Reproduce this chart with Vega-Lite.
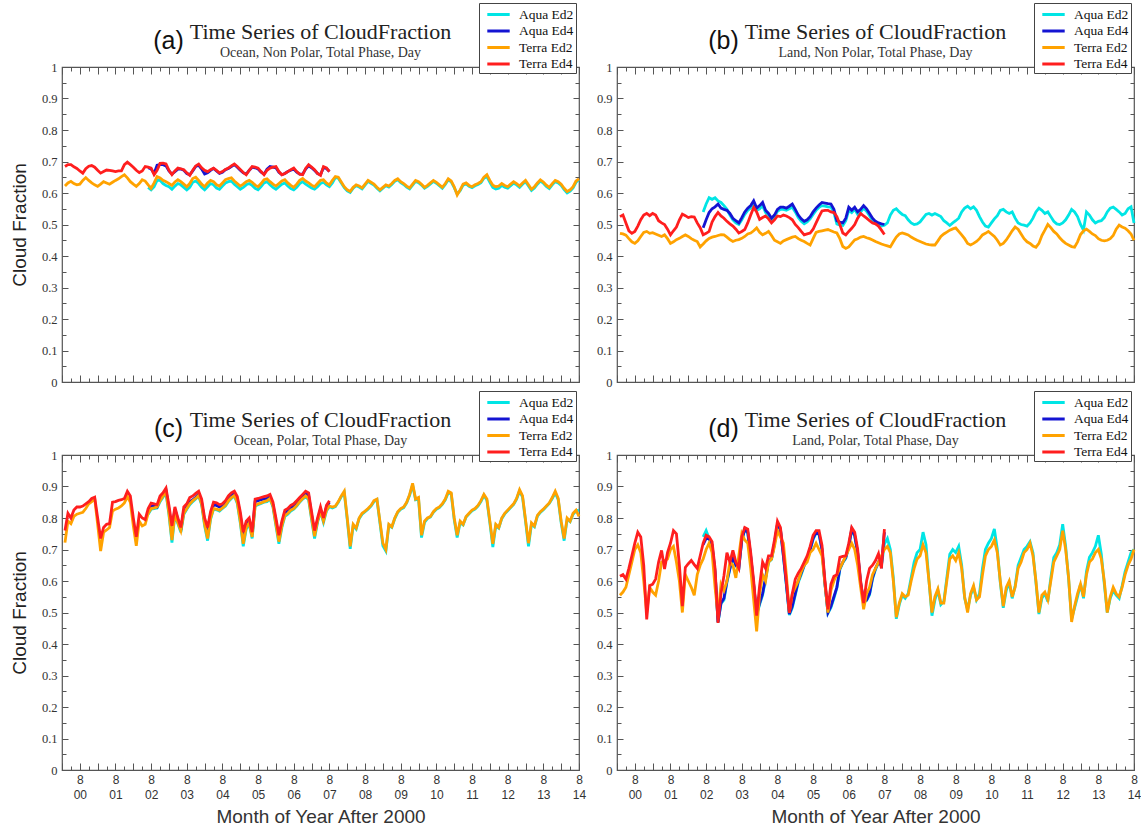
{
"$schema":"https://vega.github.io/schema/vega-lite/v6.json",
"background":"white",
"padding":{"left":9,"top":1,"right":0,"bottom":0},
"columns":2,
"spacing":{"row":73,"column":38},
"bounds":"flush",
"resolve":{"scale":{"color":"independent"},"legend":{"color":"independent"}},
"config":{
"view":{"stroke":"#555","strokeWidth":1.2},
"axis":{"domain":false,"grid":false,"tickColor":"#555","tickWidth":1,"labelFlush":false,"labelOverlap":false,"labelBound":false},
"legend":{"orient":"none","legendX":417,"legendY":-64,"strokeColor":"#444","fillColor":"white","padding":2,"symbolType":"M-0.4,0H2.4","symbolSize":256,"symbolStrokeWidth":3,"labelOffset":19,"labelFont":"Liberation Serif","labelFontSize":13.5,"labelColor":"#111","rowPadding":0.5},
"title":{"font":"Liberation Serif","fontSize":22,"fontWeight":"normal","color":"#222","subtitleFont":"Liberation Serif","subtitleFontSize":14,"subtitleColor":"#333","subtitlePadding":2,"offset":-58,"frame":"group","anchor":"middle"}
},
"datasets":{
"a_a2":[{"t":30,"v":0.618},{"t":31,"v":0.610},{"t":32,"v":0.620},{"t":33,"v":0.640},{"t":34,"v":0.640},{"t":35,"v":0.630},{"t":36,"v":0.624},{"t":37,"v":0.620},{"t":38,"v":0.612},{"t":39,"v":0.622},{"t":40,"v":0.630},{"t":41,"v":0.626},{"t":42,"v":0.618},{"t":43,"v":0.610},{"t":44,"v":0.618},{"t":45,"v":0.634},{"t":46,"v":0.638},{"t":47,"v":0.630},{"t":48,"v":0.618},{"t":49,"v":0.610},{"t":50,"v":0.620},{"t":51,"v":0.630},{"t":52,"v":0.626},{"t":53,"v":0.616},{"t":54,"v":0.612},{"t":55,"v":0.622},{"t":56,"v":0.632},{"t":57,"v":0.636},{"t":58,"v":0.638},{"t":59,"v":0.628},{"t":60,"v":0.620},{"t":61,"v":0.612},{"t":62,"v":0.618},{"t":63,"v":0.626},{"t":64,"v":0.630},{"t":65,"v":0.624},{"t":66,"v":0.615},{"t":67,"v":0.610},{"t":68,"v":0.620},{"t":69,"v":0.632},{"t":70,"v":0.636},{"t":71,"v":0.626},{"t":72,"v":0.618},{"t":73,"v":0.612},{"t":74,"v":0.620},{"t":75,"v":0.628},{"t":76,"v":0.632},{"t":77,"v":0.622},{"t":78,"v":0.614},{"t":79,"v":0.610},{"t":80,"v":0.618},{"t":81,"v":0.630},{"t":82,"v":0.636},{"t":83,"v":0.628},{"t":84,"v":0.622},{"t":85,"v":0.616},{"t":86,"v":0.612},{"t":87,"v":0.620},{"t":88,"v":0.630},{"t":89,"v":0.634},{"t":90,"v":0.626},{"t":91,"v":0.620},{"t":92,"v":0.632},{"t":93,"v":0.649},{"t":94,"v":0.647},{"t":95,"v":0.632},{"t":96,"v":0.617},{"t":97,"v":0.607},{"t":98,"v":0.602},{"t":99,"v":0.615},{"t":100,"v":0.623},{"t":101,"v":0.619},{"t":102,"v":0.613},{"t":103,"v":0.625},{"t":104,"v":0.637},{"t":105,"v":0.631},{"t":106,"v":0.625},{"t":107,"v":0.615},{"t":108,"v":0.607},{"t":109,"v":0.615},{"t":110,"v":0.623},{"t":111,"v":0.619},{"t":112,"v":0.627},{"t":113,"v":0.637},{"t":114,"v":0.642},{"t":115,"v":0.633},{"t":116,"v":0.627},{"t":117,"v":0.619},{"t":118,"v":0.613},{"t":119,"v":0.625},{"t":120,"v":0.637},{"t":121,"v":0.633},{"t":122,"v":0.625},{"t":123,"v":0.615},{"t":124,"v":0.621},{"t":125,"v":0.629},{"t":126,"v":0.637},{"t":127,"v":0.631},{"t":128,"v":0.623},{"t":129,"v":0.615},{"t":130,"v":0.627},{"t":131,"v":0.642},{"t":132,"v":0.635},{"t":133,"v":0.617},{"t":134,"v":0.597},{"t":135,"v":0.607},{"t":136,"v":0.625},{"t":137,"v":0.629},{"t":138,"v":0.621},{"t":139,"v":0.617},{"t":140,"v":0.623},{"t":141,"v":0.627},{"t":142,"v":0.633},{"t":143,"v":0.647},{"t":144,"v":0.652},{"t":145,"v":0.634},{"t":146,"v":0.618},{"t":147,"v":0.613},{"t":148,"v":0.615},{"t":149,"v":0.624},{"t":150,"v":0.618},{"t":151,"v":0.615},{"t":152,"v":0.623},{"t":153,"v":0.631},{"t":154,"v":0.626},{"t":155,"v":0.618},{"t":156,"v":0.628},{"t":157,"v":0.636},{"t":158,"v":0.622},{"t":159,"v":0.608},{"t":160,"v":0.616},{"t":161,"v":0.628},{"t":162,"v":0.638},{"t":163,"v":0.631},{"t":164,"v":0.621},{"t":165,"v":0.614},{"t":166,"v":0.626},{"t":167,"v":0.636},{"t":168,"v":0.632},{"t":169,"v":0.624},{"t":170,"v":0.611},{"t":171,"v":0.600},{"t":172,"v":0.606},{"t":173,"v":0.616},{"t":174,"v":0.634},{"t":175,"v":0.642}],
"a_a4":[{"t":30,"v":0.680},{"t":31,"v":0.676},{"t":32,"v":0.662},{"t":33,"v":0.688},{"t":34,"v":0.690},{"t":35,"v":0.690},{"t":36,"v":0.686},{"t":37,"v":0.670},{"t":38,"v":0.660},{"t":39,"v":0.668},{"t":40,"v":0.676},{"t":41,"v":0.676},{"t":42,"v":0.672},{"t":43,"v":0.662},{"t":44,"v":0.658},{"t":45,"v":0.670},{"t":46,"v":0.684},{"t":47,"v":0.688},{"t":48,"v":0.676},{"t":49,"v":0.660},{"t":50,"v":0.664},{"t":51,"v":0.672},{"t":52,"v":0.678},{"t":53,"v":0.670},{"t":54,"v":0.662},{"t":55,"v":0.666},{"t":56,"v":0.674},{"t":57,"v":0.678},{"t":58,"v":0.684},{"t":59,"v":0.690},{"t":60,"v":0.682},{"t":61,"v":0.672},{"t":62,"v":0.664},{"t":63,"v":0.660},{"t":64,"v":0.672},{"t":65,"v":0.682},{"t":66,"v":0.680},{"t":67,"v":0.676},{"t":68,"v":0.666},{"t":69,"v":0.660},{"t":70,"v":0.676},{"t":71,"v":0.684},{"t":72,"v":0.682},{"t":73,"v":0.680},{"t":74,"v":0.666},{"t":75,"v":0.658},{"t":76,"v":0.662},{"t":77,"v":0.668},{"t":78,"v":0.672},{"t":79,"v":0.676},{"t":80,"v":0.666},{"t":81,"v":0.660},{"t":82,"v":0.660},{"t":83,"v":0.676},{"t":84,"v":0.686},{"t":85,"v":0.680},{"t":86,"v":0.672},{"t":87,"v":0.662},{"t":88,"v":0.658},{"t":89,"v":0.680},{"t":90,"v":0.678},{"t":91,"v":0.668}],
"a_t2":[{"t":2,"v":0.622},{"t":3,"v":0.632},{"t":4,"v":0.637},{"t":5,"v":0.630},{"t":6,"v":0.626},{"t":7,"v":0.628},{"t":8,"v":0.640},{"t":9,"v":0.649},{"t":10,"v":0.640},{"t":11,"v":0.632},{"t":12,"v":0.626},{"t":13,"v":0.621},{"t":14,"v":0.628},{"t":15,"v":0.636},{"t":16,"v":0.632},{"t":17,"v":0.628},{"t":18,"v":0.634},{"t":19,"v":0.640},{"t":20,"v":0.645},{"t":21,"v":0.652},{"t":22,"v":0.658},{"t":23,"v":0.648},{"t":24,"v":0.636},{"t":25,"v":0.628},{"t":26,"v":0.621},{"t":27,"v":0.630},{"t":28,"v":0.642},{"t":29,"v":0.638},{"t":30,"v":0.626},{"t":31,"v":0.615},{"t":32,"v":0.632},{"t":33,"v":0.652},{"t":34,"v":0.648},{"t":35,"v":0.640},{"t":36,"v":0.636},{"t":37,"v":0.630},{"t":38,"v":0.624},{"t":39,"v":0.635},{"t":40,"v":0.642},{"t":41,"v":0.636},{"t":42,"v":0.628},{"t":43,"v":0.620},{"t":44,"v":0.630},{"t":45,"v":0.646},{"t":46,"v":0.650},{"t":47,"v":0.640},{"t":48,"v":0.628},{"t":49,"v":0.620},{"t":50,"v":0.632},{"t":51,"v":0.640},{"t":52,"v":0.636},{"t":53,"v":0.626},{"t":54,"v":0.622},{"t":55,"v":0.632},{"t":56,"v":0.642},{"t":57,"v":0.646},{"t":58,"v":0.648},{"t":59,"v":0.638},{"t":60,"v":0.630},{"t":61,"v":0.622},{"t":62,"v":0.628},{"t":63,"v":0.636},{"t":64,"v":0.640},{"t":65,"v":0.634},{"t":66,"v":0.625},{"t":67,"v":0.620},{"t":68,"v":0.630},{"t":69,"v":0.642},{"t":70,"v":0.645},{"t":71,"v":0.636},{"t":72,"v":0.628},{"t":73,"v":0.622},{"t":74,"v":0.630},{"t":75,"v":0.638},{"t":76,"v":0.642},{"t":77,"v":0.632},{"t":78,"v":0.624},{"t":79,"v":0.618},{"t":80,"v":0.628},{"t":81,"v":0.640},{"t":82,"v":0.646},{"t":83,"v":0.638},{"t":84,"v":0.632},{"t":85,"v":0.625},{"t":86,"v":0.620},{"t":87,"v":0.630},{"t":88,"v":0.640},{"t":89,"v":0.642},{"t":90,"v":0.632},{"t":91,"v":0.626},{"t":92,"v":0.640},{"t":93,"v":0.652},{"t":94,"v":0.650},{"t":95,"v":0.635},{"t":96,"v":0.620},{"t":97,"v":0.610},{"t":98,"v":0.605},{"t":99,"v":0.618},{"t":100,"v":0.626},{"t":101,"v":0.622},{"t":102,"v":0.616},{"t":103,"v":0.628},{"t":104,"v":0.640},{"t":105,"v":0.634},{"t":106,"v":0.628},{"t":107,"v":0.618},{"t":108,"v":0.610},{"t":109,"v":0.618},{"t":110,"v":0.626},{"t":111,"v":0.622},{"t":112,"v":0.630},{"t":113,"v":0.640},{"t":114,"v":0.645},{"t":115,"v":0.636},{"t":116,"v":0.630},{"t":117,"v":0.622},{"t":118,"v":0.616},{"t":119,"v":0.628},{"t":120,"v":0.640},{"t":121,"v":0.636},{"t":122,"v":0.628},{"t":123,"v":0.618},{"t":124,"v":0.624},{"t":125,"v":0.632},{"t":126,"v":0.640},{"t":127,"v":0.634},{"t":128,"v":0.626},{"t":129,"v":0.618},{"t":130,"v":0.630},{"t":131,"v":0.645},{"t":132,"v":0.638},{"t":133,"v":0.620},{"t":134,"v":0.594},{"t":135,"v":0.610},{"t":136,"v":0.628},{"t":137,"v":0.632},{"t":138,"v":0.624},{"t":139,"v":0.620},{"t":140,"v":0.626},{"t":141,"v":0.630},{"t":142,"v":0.636},{"t":143,"v":0.650},{"t":144,"v":0.658},{"t":145,"v":0.640},{"t":146,"v":0.625},{"t":147,"v":0.620},{"t":148,"v":0.622},{"t":149,"v":0.630},{"t":150,"v":0.624},{"t":151,"v":0.620},{"t":152,"v":0.628},{"t":153,"v":0.636},{"t":154,"v":0.630},{"t":155,"v":0.622},{"t":156,"v":0.632},{"t":157,"v":0.640},{"t":158,"v":0.626},{"t":159,"v":0.612},{"t":160,"v":0.620},{"t":161,"v":0.632},{"t":162,"v":0.642},{"t":163,"v":0.635},{"t":164,"v":0.625},{"t":165,"v":0.618},{"t":166,"v":0.630},{"t":167,"v":0.640},{"t":168,"v":0.636},{"t":169,"v":0.628},{"t":170,"v":0.615},{"t":171,"v":0.605},{"t":172,"v":0.610},{"t":173,"v":0.620},{"t":174,"v":0.638},{"t":175,"v":0.645}],
"a_t4":[{"t":2,"v":0.684},{"t":3,"v":0.690},{"t":4,"v":0.690},{"t":5,"v":0.683},{"t":6,"v":0.678},{"t":7,"v":0.670},{"t":8,"v":0.663},{"t":9,"v":0.677},{"t":10,"v":0.685},{"t":11,"v":0.687},{"t":12,"v":0.682},{"t":13,"v":0.672},{"t":14,"v":0.663},{"t":15,"v":0.668},{"t":16,"v":0.673},{"t":17,"v":0.672},{"t":18,"v":0.670},{"t":19,"v":0.668},{"t":20,"v":0.670},{"t":21,"v":0.670},{"t":22,"v":0.690},{"t":23,"v":0.698},{"t":24,"v":0.690},{"t":25,"v":0.682},{"t":26,"v":0.672},{"t":27,"v":0.665},{"t":28,"v":0.670},{"t":29,"v":0.684},{"t":30,"v":0.682},{"t":31,"v":0.679},{"t":32,"v":0.658},{"t":33,"v":0.672},{"t":34,"v":0.694},{"t":35,"v":0.695},{"t":36,"v":0.692},{"t":37,"v":0.672},{"t":38,"v":0.658},{"t":39,"v":0.670},{"t":40,"v":0.679},{"t":41,"v":0.677},{"t":42,"v":0.674},{"t":43,"v":0.664},{"t":44,"v":0.656},{"t":45,"v":0.672},{"t":46,"v":0.686},{"t":47,"v":0.692},{"t":48,"v":0.680},{"t":49,"v":0.672},{"t":50,"v":0.668},{"t":51,"v":0.674},{"t":52,"v":0.679},{"t":53,"v":0.672},{"t":54,"v":0.664},{"t":55,"v":0.668},{"t":56,"v":0.675},{"t":57,"v":0.679},{"t":58,"v":0.686},{"t":59,"v":0.692},{"t":60,"v":0.684},{"t":61,"v":0.675},{"t":62,"v":0.665},{"t":63,"v":0.658},{"t":64,"v":0.672},{"t":65,"v":0.684},{"t":66,"v":0.682},{"t":67,"v":0.679},{"t":68,"v":0.668},{"t":69,"v":0.658},{"t":70,"v":0.672},{"t":71,"v":0.679},{"t":72,"v":0.682},{"t":73,"v":0.684},{"t":74,"v":0.668},{"t":75,"v":0.658},{"t":76,"v":0.662},{"t":77,"v":0.668},{"t":78,"v":0.674},{"t":79,"v":0.679},{"t":80,"v":0.668},{"t":81,"v":0.660},{"t":82,"v":0.658},{"t":83,"v":0.678},{"t":84,"v":0.690},{"t":85,"v":0.682},{"t":86,"v":0.674},{"t":87,"v":0.662},{"t":88,"v":0.656},{"t":89,"v":0.684},{"t":90,"v":0.680},{"t":91,"v":0.668}],
"b_a2":[{"t":30,"v":0.540},{"t":31,"v":0.565},{"t":32,"v":0.585},{"t":33,"v":0.580},{"t":34,"v":0.585},{"t":35,"v":0.575},{"t":36,"v":0.570},{"t":37,"v":0.560},{"t":38,"v":0.548},{"t":39,"v":0.530},{"t":40,"v":0.515},{"t":41,"v":0.505},{"t":42,"v":0.500},{"t":43,"v":0.515},{"t":44,"v":0.532},{"t":45,"v":0.545},{"t":46,"v":0.552},{"t":47,"v":0.565},{"t":48,"v":0.545},{"t":49,"v":0.550},{"t":50,"v":0.560},{"t":51,"v":0.538},{"t":52,"v":0.528},{"t":53,"v":0.515},{"t":54,"v":0.525},{"t":55,"v":0.542},{"t":56,"v":0.548},{"t":57,"v":0.548},{"t":58,"v":0.545},{"t":59,"v":0.550},{"t":60,"v":0.555},{"t":61,"v":0.540},{"t":62,"v":0.522},{"t":63,"v":0.510},{"t":64,"v":0.502},{"t":65,"v":0.508},{"t":66,"v":0.518},{"t":67,"v":0.532},{"t":68,"v":0.545},{"t":69,"v":0.555},{"t":70,"v":0.560},{"t":71,"v":0.558},{"t":72,"v":0.556},{"t":73,"v":0.555},{"t":74,"v":0.538},{"t":75,"v":0.502},{"t":76,"v":0.498},{"t":77,"v":0.497},{"t":78,"v":0.512},{"t":79,"v":0.545},{"t":80,"v":0.538},{"t":81,"v":0.548},{"t":82,"v":0.532},{"t":83,"v":0.540},{"t":84,"v":0.552},{"t":85,"v":0.542},{"t":86,"v":0.528},{"t":87,"v":0.512},{"t":88,"v":0.503},{"t":89,"v":0.498},{"t":90,"v":0.495},{"t":91,"v":0.498},{"t":92,"v":0.505},{"t":93,"v":0.530},{"t":94,"v":0.545},{"t":95,"v":0.550},{"t":96,"v":0.540},{"t":97,"v":0.532},{"t":98,"v":0.528},{"t":99,"v":0.515},{"t":100,"v":0.505},{"t":101,"v":0.500},{"t":102,"v":0.502},{"t":103,"v":0.508},{"t":104,"v":0.520},{"t":105,"v":0.532},{"t":106,"v":0.535},{"t":107,"v":0.530},{"t":108,"v":0.535},{"t":109,"v":0.530},{"t":110,"v":0.525},{"t":111,"v":0.512},{"t":112,"v":0.505},{"t":113,"v":0.497},{"t":114,"v":0.505},{"t":115,"v":0.512},{"t":116,"v":0.520},{"t":117,"v":0.540},{"t":118,"v":0.552},{"t":119,"v":0.558},{"t":120,"v":0.550},{"t":121,"v":0.556},{"t":122,"v":0.545},{"t":123,"v":0.525},{"t":124,"v":0.508},{"t":125,"v":0.495},{"t":126,"v":0.492},{"t":127,"v":0.505},{"t":128,"v":0.518},{"t":129,"v":0.528},{"t":130,"v":0.545},{"t":131,"v":0.548},{"t":132,"v":0.540},{"t":133,"v":0.535},{"t":134,"v":0.540},{"t":135,"v":0.520},{"t":136,"v":0.505},{"t":137,"v":0.500},{"t":138,"v":0.498},{"t":139,"v":0.495},{"t":140,"v":0.505},{"t":141,"v":0.520},{"t":142,"v":0.540},{"t":143,"v":0.552},{"t":144,"v":0.545},{"t":145,"v":0.535},{"t":146,"v":0.540},{"t":147,"v":0.525},{"t":148,"v":0.510},{"t":149,"v":0.502},{"t":150,"v":0.500},{"t":151,"v":0.505},{"t":152,"v":0.515},{"t":153,"v":0.530},{"t":154,"v":0.548},{"t":155,"v":0.540},{"t":156,"v":0.525},{"t":157,"v":0.500},{"t":158,"v":0.482},{"t":159,"v":0.540},{"t":160,"v":0.530},{"t":161,"v":0.515},{"t":162,"v":0.505},{"t":163,"v":0.510},{"t":164,"v":0.512},{"t":165,"v":0.522},{"t":166,"v":0.540},{"t":167,"v":0.552},{"t":168,"v":0.555},{"t":169,"v":0.548},{"t":170,"v":0.540},{"t":171,"v":0.530},{"t":172,"v":0.535},{"t":173,"v":0.550},{"t":174,"v":0.556},{"t":175,"v":0.505}],
"b_a4":[{"t":30,"v":0.490},{"t":31,"v":0.515},{"t":32,"v":0.538},{"t":33,"v":0.550},{"t":34,"v":0.556},{"t":35,"v":0.565},{"t":36,"v":0.552},{"t":37,"v":0.548},{"t":38,"v":0.545},{"t":39,"v":0.535},{"t":40,"v":0.520},{"t":41,"v":0.512},{"t":42,"v":0.505},{"t":43,"v":0.522},{"t":44,"v":0.540},{"t":45,"v":0.552},{"t":46,"v":0.560},{"t":47,"v":0.575},{"t":48,"v":0.552},{"t":49,"v":0.560},{"t":50,"v":0.570},{"t":51,"v":0.545},{"t":52,"v":0.535},{"t":53,"v":0.520},{"t":54,"v":0.530},{"t":55,"v":0.548},{"t":56,"v":0.555},{"t":57,"v":0.555},{"t":58,"v":0.552},{"t":59,"v":0.558},{"t":60,"v":0.565},{"t":61,"v":0.548},{"t":62,"v":0.530},{"t":63,"v":0.518},{"t":64,"v":0.510},{"t":65,"v":0.515},{"t":66,"v":0.525},{"t":67,"v":0.540},{"t":68,"v":0.552},{"t":69,"v":0.562},{"t":70,"v":0.570},{"t":71,"v":0.568},{"t":72,"v":0.566},{"t":73,"v":0.565},{"t":74,"v":0.548},{"t":75,"v":0.512},{"t":76,"v":0.508},{"t":77,"v":0.505},{"t":78,"v":0.520},{"t":79,"v":0.555},{"t":80,"v":0.545},{"t":81,"v":0.555},{"t":82,"v":0.540},{"t":83,"v":0.548},{"t":84,"v":0.560},{"t":85,"v":0.550},{"t":86,"v":0.535},{"t":87,"v":0.520},{"t":88,"v":0.510},{"t":89,"v":0.505},{"t":90,"v":0.502},{"t":91,"v":0.500}],
"b_t2":[{"t":2,"v":0.472},{"t":3,"v":0.470},{"t":4,"v":0.466},{"t":5,"v":0.455},{"t":6,"v":0.445},{"t":7,"v":0.440},{"t":8,"v":0.448},{"t":9,"v":0.462},{"t":10,"v":0.475},{"t":11,"v":0.478},{"t":12,"v":0.472},{"t":13,"v":0.474},{"t":14,"v":0.470},{"t":15,"v":0.466},{"t":16,"v":0.462},{"t":17,"v":0.467},{"t":18,"v":0.455},{"t":19,"v":0.440},{"t":20,"v":0.445},{"t":21,"v":0.452},{"t":22,"v":0.456},{"t":23,"v":0.462},{"t":24,"v":0.467},{"t":25,"v":0.462},{"t":26,"v":0.455},{"t":27,"v":0.450},{"t":28,"v":0.446},{"t":29,"v":0.429},{"t":30,"v":0.438},{"t":31,"v":0.448},{"t":32,"v":0.456},{"t":33,"v":0.460},{"t":34,"v":0.462},{"t":35,"v":0.465},{"t":36,"v":0.468},{"t":37,"v":0.467},{"t":38,"v":0.460},{"t":39,"v":0.452},{"t":40,"v":0.446},{"t":41,"v":0.450},{"t":42,"v":0.452},{"t":43,"v":0.456},{"t":44,"v":0.462},{"t":45,"v":0.470},{"t":46,"v":0.473},{"t":47,"v":0.480},{"t":48,"v":0.489},{"t":49,"v":0.475},{"t":50,"v":0.467},{"t":51,"v":0.472},{"t":52,"v":0.478},{"t":53,"v":0.465},{"t":54,"v":0.450},{"t":55,"v":0.445},{"t":56,"v":0.440},{"t":57,"v":0.448},{"t":58,"v":0.452},{"t":59,"v":0.456},{"t":60,"v":0.460},{"t":61,"v":0.462},{"t":62,"v":0.455},{"t":63,"v":0.450},{"t":64,"v":0.446},{"t":65,"v":0.440},{"t":66,"v":0.435},{"t":67,"v":0.455},{"t":68,"v":0.475},{"t":69,"v":0.478},{"t":70,"v":0.480},{"t":71,"v":0.482},{"t":72,"v":0.484},{"t":73,"v":0.480},{"t":74,"v":0.476},{"t":75,"v":0.473},{"t":76,"v":0.455},{"t":77,"v":0.430},{"t":78,"v":0.424},{"t":79,"v":0.429},{"t":80,"v":0.440},{"t":81,"v":0.451},{"t":82,"v":0.455},{"t":83,"v":0.460},{"t":84,"v":0.462},{"t":85,"v":0.458},{"t":86,"v":0.455},{"t":87,"v":0.451},{"t":88,"v":0.446},{"t":89,"v":0.442},{"t":90,"v":0.438},{"t":91,"v":0.435},{"t":92,"v":0.432},{"t":93,"v":0.429},{"t":94,"v":0.445},{"t":95,"v":0.460},{"t":96,"v":0.470},{"t":97,"v":0.473},{"t":98,"v":0.470},{"t":99,"v":0.467},{"t":100,"v":0.460},{"t":101,"v":0.455},{"t":102,"v":0.450},{"t":103,"v":0.446},{"t":104,"v":0.442},{"t":105,"v":0.438},{"t":106,"v":0.436},{"t":107,"v":0.435},{"t":108,"v":0.435},{"t":109,"v":0.448},{"t":110,"v":0.462},{"t":111,"v":0.470},{"t":112,"v":0.476},{"t":113,"v":0.482},{"t":114,"v":0.486},{"t":115,"v":0.489},{"t":116,"v":0.478},{"t":117,"v":0.467},{"t":118,"v":0.455},{"t":119,"v":0.440},{"t":120,"v":0.435},{"t":121,"v":0.440},{"t":122,"v":0.446},{"t":123,"v":0.455},{"t":124,"v":0.467},{"t":125,"v":0.472},{"t":126,"v":0.478},{"t":127,"v":0.470},{"t":128,"v":0.462},{"t":129,"v":0.450},{"t":130,"v":0.435},{"t":131,"v":0.440},{"t":132,"v":0.451},{"t":133,"v":0.465},{"t":134,"v":0.480},{"t":135,"v":0.492},{"t":136,"v":0.485},{"t":137,"v":0.470},{"t":138,"v":0.455},{"t":139,"v":0.445},{"t":140,"v":0.440},{"t":141,"v":0.432},{"t":142,"v":0.428},{"t":143,"v":0.440},{"t":144,"v":0.465},{"t":145,"v":0.482},{"t":146,"v":0.500},{"t":147,"v":0.490},{"t":148,"v":0.478},{"t":149,"v":0.470},{"t":150,"v":0.458},{"t":151,"v":0.448},{"t":152,"v":0.440},{"t":153,"v":0.435},{"t":154,"v":0.430},{"t":155,"v":0.428},{"t":156,"v":0.445},{"t":157,"v":0.468},{"t":158,"v":0.480},{"t":159,"v":0.485},{"t":160,"v":0.478},{"t":161,"v":0.470},{"t":162,"v":0.465},{"t":163,"v":0.455},{"t":164,"v":0.450},{"t":165,"v":0.448},{"t":166,"v":0.450},{"t":167,"v":0.455},{"t":168,"v":0.465},{"t":169,"v":0.485},{"t":170,"v":0.498},{"t":171,"v":0.492},{"t":172,"v":0.488},{"t":173,"v":0.480},{"t":174,"v":0.470},{"t":175,"v":0.450}],
"b_t4":[{"t":2,"v":0.525},{"t":3,"v":0.530},{"t":4,"v":0.505},{"t":5,"v":0.480},{"t":6,"v":0.472},{"t":7,"v":0.478},{"t":8,"v":0.495},{"t":9,"v":0.515},{"t":10,"v":0.530},{"t":11,"v":0.535},{"t":12,"v":0.528},{"t":13,"v":0.535},{"t":14,"v":0.530},{"t":15,"v":0.512},{"t":16,"v":0.505},{"t":17,"v":0.500},{"t":18,"v":0.485},{"t":19,"v":0.467},{"t":20,"v":0.480},{"t":21,"v":0.492},{"t":22,"v":0.515},{"t":23,"v":0.533},{"t":24,"v":0.528},{"t":25,"v":0.522},{"t":26,"v":0.525},{"t":27,"v":0.524},{"t":28,"v":0.505},{"t":29,"v":0.490},{"t":30,"v":0.467},{"t":31,"v":0.472},{"t":32,"v":0.478},{"t":33,"v":0.508},{"t":34,"v":0.525},{"t":35,"v":0.538},{"t":36,"v":0.527},{"t":37,"v":0.520},{"t":38,"v":0.510},{"t":39,"v":0.502},{"t":40,"v":0.495},{"t":41,"v":0.485},{"t":42,"v":0.473},{"t":43,"v":0.478},{"t":44,"v":0.484},{"t":45,"v":0.505},{"t":46,"v":0.530},{"t":47,"v":0.554},{"t":48,"v":0.540},{"t":49,"v":0.516},{"t":50,"v":0.522},{"t":51,"v":0.527},{"t":52,"v":0.518},{"t":53,"v":0.505},{"t":54,"v":0.515},{"t":55,"v":0.527},{"t":56,"v":0.525},{"t":57,"v":0.530},{"t":58,"v":0.527},{"t":59,"v":0.522},{"t":60,"v":0.515},{"t":61,"v":0.500},{"t":62,"v":0.490},{"t":63,"v":0.478},{"t":64,"v":0.467},{"t":65,"v":0.470},{"t":66,"v":0.473},{"t":67,"v":0.485},{"t":68,"v":0.505},{"t":69,"v":0.525},{"t":70,"v":0.543},{"t":71,"v":0.545},{"t":72,"v":0.545},{"t":73,"v":0.540},{"t":74,"v":0.538},{"t":75,"v":0.525},{"t":76,"v":0.500},{"t":77,"v":0.473},{"t":78,"v":0.467},{"t":79,"v":0.478},{"t":80,"v":0.488},{"t":81,"v":0.500},{"t":82,"v":0.520},{"t":83,"v":0.535},{"t":84,"v":0.527},{"t":85,"v":0.520},{"t":86,"v":0.512},{"t":87,"v":0.505},{"t":88,"v":0.502},{"t":89,"v":0.495},{"t":90,"v":0.482},{"t":91,"v":0.468}],
"c_a2":[{"t":30,"v":0.812},{"t":31,"v":0.828},{"t":32,"v":0.830},{"t":33,"v":0.832},{"t":34,"v":0.852},{"t":35,"v":0.866},{"t":36,"v":0.878},{"t":37,"v":0.810},{"t":38,"v":0.722},{"t":39,"v":0.810},{"t":40,"v":0.782},{"t":41,"v":0.755},{"t":42,"v":0.812},{"t":43,"v":0.828},{"t":44,"v":0.842},{"t":45,"v":0.852},{"t":46,"v":0.860},{"t":47,"v":0.870},{"t":48,"v":0.842},{"t":49,"v":0.775},{"t":50,"v":0.728},{"t":51,"v":0.796},{"t":52,"v":0.828},{"t":53,"v":0.826},{"t":54,"v":0.822},{"t":55,"v":0.830},{"t":56,"v":0.838},{"t":57,"v":0.852},{"t":58,"v":0.862},{"t":59,"v":0.870},{"t":60,"v":0.846},{"t":61,"v":0.785},{"t":62,"v":0.710},{"t":63,"v":0.765},{"t":64,"v":0.780},{"t":65,"v":0.735},{"t":66,"v":0.838},{"t":67,"v":0.842},{"t":68,"v":0.846},{"t":69,"v":0.850},{"t":70,"v":0.852},{"t":71,"v":0.860},{"t":72,"v":0.835},{"t":73,"v":0.775},{"t":74,"v":0.718},{"t":75,"v":0.770},{"t":76,"v":0.805},{"t":77,"v":0.812},{"t":78,"v":0.822},{"t":79,"v":0.828},{"t":80,"v":0.838},{"t":81,"v":0.850},{"t":82,"v":0.860},{"t":83,"v":0.868},{"t":84,"v":0.858},{"t":85,"v":0.795},{"t":86,"v":0.735},{"t":87,"v":0.786},{"t":88,"v":0.820},{"t":89,"v":0.786},{"t":90,"v":0.822},{"t":91,"v":0.836},{"t":92,"v":0.832},{"t":93,"v":0.836},{"t":94,"v":0.850},{"t":95,"v":0.868},{"t":96,"v":0.880},{"t":97,"v":0.795},{"t":98,"v":0.702},{"t":99,"v":0.776},{"t":100,"v":0.765},{"t":101,"v":0.798},{"t":102,"v":0.812},{"t":103,"v":0.820},{"t":104,"v":0.828},{"t":105,"v":0.838},{"t":106,"v":0.852},{"t":107,"v":0.858},{"t":108,"v":0.785},{"t":109,"v":0.712},{"t":110,"v":0.695},{"t":111,"v":0.776},{"t":112,"v":0.770},{"t":113,"v":0.798},{"t":114,"v":0.818},{"t":115,"v":0.828},{"t":116,"v":0.833},{"t":117,"v":0.848},{"t":118,"v":0.872},{"t":119,"v":0.905},{"t":120,"v":0.858},{"t":121,"v":0.860},{"t":122,"v":0.738},{"t":123,"v":0.786},{"t":124,"v":0.798},{"t":125,"v":0.803},{"t":126,"v":0.818},{"t":127,"v":0.828},{"t":128,"v":0.833},{"t":129,"v":0.843},{"t":130,"v":0.858},{"t":131,"v":0.880},{"t":132,"v":0.876},{"t":133,"v":0.795},{"t":134,"v":0.738},{"t":135,"v":0.786},{"t":136,"v":0.778},{"t":137,"v":0.803},{"t":138,"v":0.813},{"t":139,"v":0.823},{"t":140,"v":0.828},{"t":141,"v":0.838},{"t":142,"v":0.852},{"t":143,"v":0.872},{"t":144,"v":0.856},{"t":145,"v":0.785},{"t":146,"v":0.708},{"t":147,"v":0.776},{"t":148,"v":0.768},{"t":149,"v":0.798},{"t":150,"v":0.813},{"t":151,"v":0.823},{"t":152,"v":0.833},{"t":153,"v":0.843},{"t":154,"v":0.860},{"t":155,"v":0.886},{"t":156,"v":0.866},{"t":157,"v":0.790},{"t":158,"v":0.710},{"t":159,"v":0.780},{"t":160,"v":0.772},{"t":161,"v":0.806},{"t":162,"v":0.818},{"t":163,"v":0.826},{"t":164,"v":0.836},{"t":165,"v":0.846},{"t":166,"v":0.862},{"t":167,"v":0.880},{"t":168,"v":0.858},{"t":169,"v":0.785},{"t":170,"v":0.728},{"t":171,"v":0.796},{"t":172,"v":0.788},{"t":173,"v":0.812},{"t":174,"v":0.822},{"t":175,"v":0.825}],
"c_a4":[{"t":30,"v":0.822},{"t":31,"v":0.838},{"t":32,"v":0.838},{"t":33,"v":0.835},{"t":34,"v":0.862},{"t":35,"v":0.872},{"t":36,"v":0.888},{"t":37,"v":0.828},{"t":38,"v":0.760},{"t":39,"v":0.828},{"t":40,"v":0.795},{"t":41,"v":0.762},{"t":42,"v":0.825},{"t":43,"v":0.835},{"t":44,"v":0.852},{"t":45,"v":0.858},{"t":46,"v":0.866},{"t":47,"v":0.876},{"t":48,"v":0.850},{"t":49,"v":0.790},{"t":50,"v":0.758},{"t":51,"v":0.812},{"t":52,"v":0.842},{"t":53,"v":0.840},{"t":54,"v":0.835},{"t":55,"v":0.838},{"t":56,"v":0.848},{"t":57,"v":0.862},{"t":58,"v":0.872},{"t":59,"v":0.878},{"t":60,"v":0.860},{"t":61,"v":0.808},{"t":62,"v":0.742},{"t":63,"v":0.782},{"t":64,"v":0.792},{"t":65,"v":0.748},{"t":66,"v":0.852},{"t":67,"v":0.855},{"t":68,"v":0.858},{"t":69,"v":0.860},{"t":70,"v":0.862},{"t":71,"v":0.868},{"t":72,"v":0.842},{"t":73,"v":0.790},{"t":74,"v":0.735},{"t":75,"v":0.782},{"t":76,"v":0.818},{"t":77,"v":0.822},{"t":78,"v":0.832},{"t":79,"v":0.838},{"t":80,"v":0.848},{"t":81,"v":0.858},{"t":82,"v":0.868},{"t":83,"v":0.878},{"t":84,"v":0.872},{"t":85,"v":0.810},{"t":86,"v":0.752},{"t":87,"v":0.792},{"t":88,"v":0.828},{"t":89,"v":0.795},{"t":90,"v":0.835},{"t":91,"v":0.850}],
"c_t2":[{"t":2,"v":0.722},{"t":3,"v":0.790},{"t":4,"v":0.782},{"t":5,"v":0.805},{"t":6,"v":0.812},{"t":7,"v":0.815},{"t":8,"v":0.818},{"t":9,"v":0.830},{"t":10,"v":0.845},{"t":11,"v":0.852},{"t":12,"v":0.862},{"t":13,"v":0.780},{"t":14,"v":0.695},{"t":15,"v":0.755},{"t":16,"v":0.762},{"t":17,"v":0.770},{"t":18,"v":0.822},{"t":19,"v":0.828},{"t":20,"v":0.832},{"t":21,"v":0.838},{"t":22,"v":0.848},{"t":23,"v":0.868},{"t":24,"v":0.850},{"t":25,"v":0.775},{"t":26,"v":0.712},{"t":27,"v":0.790},{"t":28,"v":0.775},{"t":29,"v":0.780},{"t":30,"v":0.815},{"t":31,"v":0.830},{"t":32,"v":0.832},{"t":33,"v":0.835},{"t":34,"v":0.855},{"t":35,"v":0.870},{"t":36,"v":0.882},{"t":37,"v":0.815},{"t":38,"v":0.730},{"t":39,"v":0.815},{"t":40,"v":0.785},{"t":41,"v":0.760},{"t":42,"v":0.815},{"t":43,"v":0.830},{"t":44,"v":0.845},{"t":45,"v":0.855},{"t":46,"v":0.862},{"t":47,"v":0.872},{"t":48,"v":0.845},{"t":49,"v":0.780},{"t":50,"v":0.735},{"t":51,"v":0.800},{"t":52,"v":0.830},{"t":53,"v":0.828},{"t":54,"v":0.825},{"t":55,"v":0.832},{"t":56,"v":0.840},{"t":57,"v":0.855},{"t":58,"v":0.865},{"t":59,"v":0.872},{"t":60,"v":0.850},{"t":61,"v":0.790},{"t":62,"v":0.718},{"t":63,"v":0.770},{"t":64,"v":0.785},{"t":65,"v":0.740},{"t":66,"v":0.840},{"t":67,"v":0.845},{"t":68,"v":0.848},{"t":69,"v":0.852},{"t":70,"v":0.855},{"t":71,"v":0.862},{"t":72,"v":0.838},{"t":73,"v":0.780},{"t":74,"v":0.725},{"t":75,"v":0.775},{"t":76,"v":0.808},{"t":77,"v":0.815},{"t":78,"v":0.825},{"t":79,"v":0.830},{"t":80,"v":0.840},{"t":81,"v":0.852},{"t":82,"v":0.862},{"t":83,"v":0.870},{"t":84,"v":0.862},{"t":85,"v":0.800},{"t":86,"v":0.742},{"t":87,"v":0.790},{"t":88,"v":0.822},{"t":89,"v":0.790},{"t":90,"v":0.825},{"t":91,"v":0.838},{"t":92,"v":0.835},{"t":93,"v":0.838},{"t":94,"v":0.852},{"t":95,"v":0.870},{"t":96,"v":0.885},{"t":97,"v":0.800},{"t":98,"v":0.710},{"t":99,"v":0.780},{"t":100,"v":0.768},{"t":101,"v":0.800},{"t":102,"v":0.815},{"t":103,"v":0.822},{"t":104,"v":0.830},{"t":105,"v":0.840},{"t":106,"v":0.855},{"t":107,"v":0.860},{"t":108,"v":0.790},{"t":109,"v":0.720},{"t":110,"v":0.700},{"t":111,"v":0.780},{"t":112,"v":0.772},{"t":113,"v":0.800},{"t":114,"v":0.820},{"t":115,"v":0.830},{"t":116,"v":0.835},{"t":117,"v":0.850},{"t":118,"v":0.875},{"t":119,"v":0.910},{"t":120,"v":0.860},{"t":121,"v":0.865},{"t":122,"v":0.745},{"t":123,"v":0.790},{"t":124,"v":0.800},{"t":125,"v":0.805},{"t":126,"v":0.820},{"t":127,"v":0.830},{"t":128,"v":0.835},{"t":129,"v":0.845},{"t":130,"v":0.860},{"t":131,"v":0.885},{"t":132,"v":0.880},{"t":133,"v":0.800},{"t":134,"v":0.745},{"t":135,"v":0.790},{"t":136,"v":0.780},{"t":137,"v":0.805},{"t":138,"v":0.815},{"t":139,"v":0.825},{"t":140,"v":0.830},{"t":141,"v":0.840},{"t":142,"v":0.855},{"t":143,"v":0.875},{"t":144,"v":0.860},{"t":145,"v":0.790},{"t":146,"v":0.718},{"t":147,"v":0.780},{"t":148,"v":0.770},{"t":149,"v":0.800},{"t":150,"v":0.815},{"t":151,"v":0.825},{"t":152,"v":0.835},{"t":153,"v":0.845},{"t":154,"v":0.862},{"t":155,"v":0.890},{"t":156,"v":0.870},{"t":157,"v":0.795},{"t":158,"v":0.720},{"t":159,"v":0.785},{"t":160,"v":0.775},{"t":161,"v":0.808},{"t":162,"v":0.820},{"t":163,"v":0.828},{"t":164,"v":0.838},{"t":165,"v":0.848},{"t":166,"v":0.865},{"t":167,"v":0.885},{"t":168,"v":0.862},{"t":169,"v":0.790},{"t":170,"v":0.735},{"t":171,"v":0.800},{"t":172,"v":0.790},{"t":173,"v":0.815},{"t":174,"v":0.825},{"t":175,"v":0.805}],
"c_t4":[{"t":2,"v":0.760},{"t":3,"v":0.815},{"t":4,"v":0.800},{"t":5,"v":0.825},{"t":6,"v":0.835},{"t":7,"v":0.835},{"t":8,"v":0.838},{"t":9,"v":0.845},{"t":10,"v":0.852},{"t":11,"v":0.862},{"t":12,"v":0.866},{"t":13,"v":0.800},{"t":14,"v":0.735},{"t":15,"v":0.770},{"t":16,"v":0.780},{"t":17,"v":0.782},{"t":18,"v":0.850},{"t":19,"v":0.852},{"t":20,"v":0.856},{"t":21,"v":0.858},{"t":22,"v":0.862},{"t":23,"v":0.885},{"t":24,"v":0.870},{"t":25,"v":0.800},{"t":26,"v":0.740},{"t":27,"v":0.812},{"t":28,"v":0.800},{"t":29,"v":0.795},{"t":30,"v":0.830},{"t":31,"v":0.847},{"t":32,"v":0.845},{"t":33,"v":0.842},{"t":34,"v":0.870},{"t":35,"v":0.880},{"t":36,"v":0.895},{"t":37,"v":0.840},{"t":38,"v":0.775},{"t":39,"v":0.835},{"t":40,"v":0.800},{"t":41,"v":0.770},{"t":42,"v":0.835},{"t":43,"v":0.845},{"t":44,"v":0.865},{"t":45,"v":0.870},{"t":46,"v":0.878},{"t":47,"v":0.885},{"t":48,"v":0.860},{"t":49,"v":0.800},{"t":50,"v":0.770},{"t":51,"v":0.820},{"t":52,"v":0.850},{"t":53,"v":0.848},{"t":54,"v":0.842},{"t":55,"v":0.845},{"t":56,"v":0.855},{"t":57,"v":0.870},{"t":58,"v":0.880},{"t":59,"v":0.885},{"t":60,"v":0.868},{"t":61,"v":0.820},{"t":62,"v":0.755},{"t":63,"v":0.790},{"t":64,"v":0.800},{"t":65,"v":0.755},{"t":66,"v":0.860},{"t":67,"v":0.862},{"t":68,"v":0.865},{"t":69,"v":0.868},{"t":70,"v":0.870},{"t":71,"v":0.875},{"t":72,"v":0.850},{"t":73,"v":0.800},{"t":74,"v":0.745},{"t":75,"v":0.790},{"t":76,"v":0.825},{"t":77,"v":0.830},{"t":78,"v":0.840},{"t":79,"v":0.845},{"t":80,"v":0.855},{"t":81,"v":0.865},{"t":82,"v":0.875},{"t":83,"v":0.885},{"t":84,"v":0.880},{"t":85,"v":0.820},{"t":86,"v":0.760},{"t":87,"v":0.800},{"t":88,"v":0.835},{"t":89,"v":0.800},{"t":90,"v":0.840},{"t":91,"v":0.855}],
"d_a2":[{"t":30,"v":0.740},{"t":31,"v":0.760},{"t":32,"v":0.735},{"t":33,"v":0.710},{"t":34,"v":0.625},{"t":35,"v":0.468},{"t":36,"v":0.528},{"t":37,"v":0.540},{"t":38,"v":0.595},{"t":39,"v":0.638},{"t":40,"v":0.675},{"t":41,"v":0.648},{"t":42,"v":0.640},{"t":43,"v":0.728},{"t":44,"v":0.762},{"t":45,"v":0.752},{"t":46,"v":0.676},{"t":47,"v":0.585},{"t":48,"v":0.492},{"t":49,"v":0.525},{"t":50,"v":0.555},{"t":51,"v":0.605},{"t":52,"v":0.660},{"t":53,"v":0.668},{"t":54,"v":0.718},{"t":55,"v":0.778},{"t":56,"v":0.762},{"t":57,"v":0.678},{"t":58,"v":0.585},{"t":59,"v":0.492},{"t":60,"v":0.515},{"t":61,"v":0.555},{"t":62,"v":0.595},{"t":63,"v":0.620},{"t":64,"v":0.648},{"t":65,"v":0.668},{"t":66,"v":0.698},{"t":67,"v":0.732},{"t":68,"v":0.752},{"t":69,"v":0.748},{"t":70,"v":0.698},{"t":71,"v":0.588},{"t":72,"v":0.498},{"t":73,"v":0.515},{"t":74,"v":0.545},{"t":75,"v":0.578},{"t":76,"v":0.636},{"t":77,"v":0.658},{"t":78,"v":0.672},{"t":79,"v":0.708},{"t":80,"v":0.762},{"t":81,"v":0.742},{"t":82,"v":0.688},{"t":83,"v":0.592},{"t":84,"v":0.532},{"t":85,"v":0.538},{"t":86,"v":0.556},{"t":87,"v":0.606},{"t":88,"v":0.636},{"t":89,"v":0.658},{"t":90,"v":0.648},{"t":91,"v":0.718},{"t":92,"v":0.735},{"t":93,"v":0.700},{"t":94,"v":0.610},{"t":95,"v":0.480},{"t":96,"v":0.525},{"t":97,"v":0.555},{"t":98,"v":0.545},{"t":99,"v":0.560},{"t":100,"v":0.610},{"t":101,"v":0.660},{"t":102,"v":0.690},{"t":103,"v":0.700},{"t":104,"v":0.755},{"t":105,"v":0.715},{"t":106,"v":0.600},{"t":107,"v":0.490},{"t":108,"v":0.540},{"t":109,"v":0.570},{"t":110,"v":0.525},{"t":111,"v":0.535},{"t":112,"v":0.610},{"t":113,"v":0.685},{"t":114,"v":0.700},{"t":115,"v":0.690},{"t":116,"v":0.710},{"t":117,"v":0.650},{"t":118,"v":0.545},{"t":119,"v":0.510},{"t":120,"v":0.555},{"t":121,"v":0.580},{"t":122,"v":0.540},{"t":123,"v":0.560},{"t":124,"v":0.640},{"t":125,"v":0.700},{"t":126,"v":0.720},{"t":127,"v":0.735},{"t":128,"v":0.765},{"t":129,"v":0.700},{"t":130,"v":0.595},{"t":131,"v":0.515},{"t":132,"v":0.570},{"t":133,"v":0.595},{"t":134,"v":0.545},{"t":135,"v":0.585},{"t":136,"v":0.650},{"t":137,"v":0.675},{"t":138,"v":0.700},{"t":139,"v":0.710},{"t":140,"v":0.725},{"t":141,"v":0.690},{"t":142,"v":0.595},{"t":143,"v":0.495},{"t":144,"v":0.545},{"t":145,"v":0.560},{"t":146,"v":0.535},{"t":147,"v":0.610},{"t":148,"v":0.675},{"t":149,"v":0.690},{"t":150,"v":0.715},{"t":151,"v":0.780},{"t":152,"v":0.710},{"t":153,"v":0.605},{"t":154,"v":0.480},{"t":155,"v":0.515},{"t":156,"v":0.550},{"t":157,"v":0.590},{"t":158,"v":0.545},{"t":159,"v":0.630},{"t":160,"v":0.675},{"t":161,"v":0.690},{"t":162,"v":0.710},{"t":163,"v":0.745},{"t":164,"v":0.685},{"t":165,"v":0.590},{"t":166,"v":0.500},{"t":167,"v":0.545},{"t":168,"v":0.570},{"t":169,"v":0.555},{"t":170,"v":0.545},{"t":171,"v":0.585},{"t":172,"v":0.630},{"t":173,"v":0.660},{"t":174,"v":0.690},{"t":175,"v":0.700}],
"d_a4":[{"t":30,"v":0.715},{"t":31,"v":0.735},{"t":32,"v":0.735},{"t":33,"v":0.715},{"t":34,"v":0.630},{"t":35,"v":0.470},{"t":36,"v":0.530},{"t":37,"v":0.545},{"t":38,"v":0.600},{"t":39,"v":0.640},{"t":40,"v":0.680},{"t":41,"v":0.650},{"t":42,"v":0.640},{"t":43,"v":0.730},{"t":44,"v":0.765},{"t":45,"v":0.755},{"t":46,"v":0.680},{"t":47,"v":0.590},{"t":48,"v":0.495},{"t":49,"v":0.530},{"t":50,"v":0.560},{"t":51,"v":0.610},{"t":52,"v":0.665},{"t":53,"v":0.670},{"t":54,"v":0.720},{"t":55,"v":0.780},{"t":56,"v":0.765},{"t":57,"v":0.680},{"t":58,"v":0.590},{"t":59,"v":0.495},{"t":60,"v":0.520},{"t":61,"v":0.560},{"t":62,"v":0.600},{"t":63,"v":0.625},{"t":64,"v":0.650},{"t":65,"v":0.670},{"t":66,"v":0.700},{"t":67,"v":0.735},{"t":68,"v":0.755},{"t":69,"v":0.750},{"t":70,"v":0.700},{"t":71,"v":0.590},{"t":72,"v":0.500},{"t":73,"v":0.520},{"t":74,"v":0.550},{"t":75,"v":0.580},{"t":76,"v":0.640},{"t":77,"v":0.660},{"t":78,"v":0.675},{"t":79,"v":0.710},{"t":80,"v":0.765},{"t":81,"v":0.745},{"t":82,"v":0.690},{"t":83,"v":0.595},{"t":84,"v":0.535},{"t":85,"v":0.540},{"t":86,"v":0.560},{"t":87,"v":0.610},{"t":88,"v":0.640},{"t":89,"v":0.660},{"t":90,"v":0.650},{"t":91,"v":0.755}],
"d_t2":[{"t":2,"v":0.555},{"t":3,"v":0.565},{"t":4,"v":0.580},{"t":5,"v":0.620},{"t":6,"v":0.660},{"t":7,"v":0.700},{"t":8,"v":0.715},{"t":9,"v":0.690},{"t":10,"v":0.600},{"t":11,"v":0.500},{"t":12,"v":0.580},{"t":13,"v":0.565},{"t":14,"v":0.555},{"t":15,"v":0.600},{"t":16,"v":0.660},{"t":17,"v":0.665},{"t":18,"v":0.670},{"t":19,"v":0.700},{"t":20,"v":0.710},{"t":21,"v":0.660},{"t":22,"v":0.600},{"t":23,"v":0.500},{"t":24,"v":0.620},{"t":25,"v":0.600},{"t":26,"v":0.580},{"t":27,"v":0.555},{"t":28,"v":0.620},{"t":29,"v":0.650},{"t":30,"v":0.670},{"t":31,"v":0.700},{"t":32,"v":0.720},{"t":33,"v":0.690},{"t":34,"v":0.580},{"t":35,"v":0.490},{"t":36,"v":0.590},{"t":37,"v":0.570},{"t":38,"v":0.600},{"t":39,"v":0.660},{"t":40,"v":0.650},{"t":41,"v":0.610},{"t":42,"v":0.680},{"t":43,"v":0.750},{"t":44,"v":0.730},{"t":45,"v":0.720},{"t":46,"v":0.640},{"t":47,"v":0.540},{"t":48,"v":0.440},{"t":49,"v":0.560},{"t":50,"v":0.620},{"t":51,"v":0.600},{"t":52,"v":0.660},{"t":53,"v":0.670},{"t":54,"v":0.710},{"t":55,"v":0.760},{"t":56,"v":0.740},{"t":57,"v":0.720},{"t":58,"v":0.620},{"t":59,"v":0.500},{"t":60,"v":0.560},{"t":61,"v":0.580},{"t":62,"v":0.600},{"t":63,"v":0.630},{"t":64,"v":0.650},{"t":65,"v":0.660},{"t":66,"v":0.690},{"t":67,"v":0.700},{"t":68,"v":0.720},{"t":69,"v":0.700},{"t":70,"v":0.680},{"t":71,"v":0.590},{"t":72,"v":0.500},{"t":73,"v":0.570},{"t":74,"v":0.600},{"t":75,"v":0.620},{"t":76,"v":0.640},{"t":77,"v":0.660},{"t":78,"v":0.680},{"t":79,"v":0.700},{"t":80,"v":0.720},{"t":81,"v":0.700},{"t":82,"v":0.650},{"t":83,"v":0.580},{"t":84,"v":0.510},{"t":85,"v":0.560},{"t":86,"v":0.580},{"t":87,"v":0.620},{"t":88,"v":0.640},{"t":89,"v":0.660},{"t":90,"v":0.680},{"t":91,"v":0.700},{"t":92,"v":0.710},{"t":93,"v":0.690},{"t":94,"v":0.600},{"t":95,"v":0.485},{"t":96,"v":0.530},{"t":97,"v":0.560},{"t":98,"v":0.550},{"t":99,"v":0.555},{"t":100,"v":0.600},{"t":101,"v":0.640},{"t":102,"v":0.670},{"t":103,"v":0.680},{"t":104,"v":0.715},{"t":105,"v":0.690},{"t":106,"v":0.600},{"t":107,"v":0.500},{"t":108,"v":0.550},{"t":109,"v":0.575},{"t":110,"v":0.530},{"t":111,"v":0.530},{"t":112,"v":0.600},{"t":113,"v":0.670},{"t":114,"v":0.680},{"t":115,"v":0.665},{"t":116,"v":0.690},{"t":117,"v":0.640},{"t":118,"v":0.550},{"t":119,"v":0.500},{"t":120,"v":0.560},{"t":121,"v":0.585},{"t":122,"v":0.540},{"t":123,"v":0.550},{"t":124,"v":0.620},{"t":125,"v":0.680},{"t":126,"v":0.700},{"t":127,"v":0.710},{"t":128,"v":0.730},{"t":129,"v":0.690},{"t":130,"v":0.600},{"t":131,"v":0.520},{"t":132,"v":0.580},{"t":133,"v":0.600},{"t":134,"v":0.550},{"t":135,"v":0.580},{"t":136,"v":0.640},{"t":137,"v":0.660},{"t":138,"v":0.690},{"t":139,"v":0.700},{"t":140,"v":0.720},{"t":141,"v":0.680},{"t":142,"v":0.600},{"t":143,"v":0.500},{"t":144,"v":0.555},{"t":145,"v":0.565},{"t":146,"v":0.540},{"t":147,"v":0.600},{"t":148,"v":0.660},{"t":149,"v":0.680},{"t":150,"v":0.700},{"t":151,"v":0.760},{"t":152,"v":0.700},{"t":153,"v":0.610},{"t":154,"v":0.470},{"t":155,"v":0.520},{"t":156,"v":0.560},{"t":157,"v":0.590},{"t":158,"v":0.550},{"t":159,"v":0.620},{"t":160,"v":0.660},{"t":161,"v":0.670},{"t":162,"v":0.690},{"t":163,"v":0.700},{"t":164,"v":0.670},{"t":165,"v":0.600},{"t":166,"v":0.500},{"t":167,"v":0.550},{"t":168,"v":0.580},{"t":169,"v":0.560},{"t":170,"v":0.550},{"t":171,"v":0.580},{"t":172,"v":0.620},{"t":173,"v":0.650},{"t":174,"v":0.670},{"t":175,"v":0.700}],
"d_t4":[{"t":2,"v":0.615},{"t":3,"v":0.620},{"t":4,"v":0.606},{"t":5,"v":0.640},{"t":6,"v":0.680},{"t":7,"v":0.720},{"t":8,"v":0.755},{"t":9,"v":0.740},{"t":10,"v":0.650},{"t":11,"v":0.478},{"t":12,"v":0.585},{"t":13,"v":0.590},{"t":14,"v":0.606},{"t":15,"v":0.660},{"t":16,"v":0.697},{"t":17,"v":0.638},{"t":18,"v":0.690},{"t":19,"v":0.720},{"t":20,"v":0.760},{"t":21,"v":0.750},{"t":22,"v":0.650},{"t":23,"v":0.520},{"t":24,"v":0.643},{"t":25,"v":0.655},{"t":26,"v":0.665},{"t":27,"v":0.652},{"t":28,"v":0.640},{"t":29,"v":0.680},{"t":30,"v":0.720},{"t":31,"v":0.745},{"t":32,"v":0.740},{"t":33,"v":0.725},{"t":34,"v":0.640},{"t":35,"v":0.467},{"t":36,"v":0.560},{"t":37,"v":0.617},{"t":38,"v":0.690},{"t":39,"v":0.660},{"t":40,"v":0.697},{"t":41,"v":0.660},{"t":42,"v":0.640},{"t":43,"v":0.740},{"t":44,"v":0.770},{"t":45,"v":0.765},{"t":46,"v":0.690},{"t":47,"v":0.600},{"t":48,"v":0.490},{"t":49,"v":0.585},{"t":50,"v":0.660},{"t":51,"v":0.640},{"t":52,"v":0.680},{"t":53,"v":0.680},{"t":54,"v":0.730},{"t":55,"v":0.790},{"t":56,"v":0.770},{"t":57,"v":0.690},{"t":58,"v":0.600},{"t":59,"v":0.500},{"t":60,"v":0.560},{"t":61,"v":0.606},{"t":62,"v":0.625},{"t":63,"v":0.640},{"t":64,"v":0.660},{"t":65,"v":0.680},{"t":66,"v":0.710},{"t":67,"v":0.745},{"t":68,"v":0.760},{"t":69,"v":0.760},{"t":70,"v":0.713},{"t":71,"v":0.600},{"t":72,"v":0.510},{"t":73,"v":0.590},{"t":74,"v":0.615},{"t":75,"v":0.620},{"t":76,"v":0.675},{"t":77,"v":0.678},{"t":78,"v":0.680},{"t":79,"v":0.720},{"t":80,"v":0.770},{"t":81,"v":0.755},{"t":82,"v":0.700},{"t":83,"v":0.600},{"t":84,"v":0.530},{"t":85,"v":0.600},{"t":86,"v":0.640},{"t":87,"v":0.650},{"t":88,"v":0.665},{"t":89,"v":0.687},{"t":90,"v":0.640},{"t":91,"v":0.765}]
},
"concat":[
{"width":517,"height":315,
"title":{"text":"Time Series of CloudFraction","subtitle":"Ocean, Non Polar, Total Phase, Day"},
"layer":[
{"data":{"name":"a_a2"},"mark":{"type":"line","strokeWidth":2.8},"encoding":{
"x":{"field":"t","type":"quantitative","scale":{"domain":[1,175],"nice":false,"zero":false},"axis":{"orient":"bottom","values":[1,7,13,19,25,31,37,43,49,55,61,67,73,79,85,91,97,103,109,115,121,127,133,139,145,151,157,163,169,175],"tickSize":-7,"labels":false,"title":null}},
"y":{"field":"v","type":"quantitative","scale":{"domain":[0,1],"nice":false,"zero":false},"axis":{"orient":"left","values":[0,0.1,0.2,0.3,0.4,0.5,0.6,0.7,0.8,0.9,1],"tickSize":-6,"format":"~g","labelFont":"Liberation Serif","labelFontSize":12.5,"labelColor":"#333","labelPadding":11,"title":"Cloud Fraction","titleFont":"Liberation Sans","titleFontSize":19,"titleFontWeight":"normal","titleColor":"#222","titlePadding":12}},
"color":{"datum":"Aqua Ed2","type":"nominal","title":null,"scale":{"domain":["Aqua Ed2","Aqua Ed4","Terra Ed2","Terra Ed4"],"range":["#00E5E5","#1414D2","#FFA200","#FF1E1E"]}}}},
{"data":{"name":"a_a4"},"mark":{"type":"line","strokeWidth":2.8},"encoding":{
"x":{"field":"t","type":"quantitative","scale":{"domain":[1,175],"nice":false,"zero":false},"axis":{"orient":"bottom","values":[4,10,16,22,28,34,40,46,52,58,64,70,76,82,88,94,100,106,112,118,124,130,136,142,148,154,160,166,172],"tickSize":-4,"labels":false,"title":null}},
"y":{"field":"v","type":"quantitative","scale":{"domain":[0,1],"nice":false,"zero":false},"axis":{"orient":"left","values":[0.05,0.15,0.25,0.35,0.45,0.55,0.65,0.75,0.85,0.95],"tickSize":-4,"labels":false,"title":null}},
"color":{"datum":"Aqua Ed4","type":"nominal","title":null,"scale":{"domain":["Aqua Ed2","Aqua Ed4","Terra Ed2","Terra Ed4"],"range":["#00E5E5","#1414D2","#FFA200","#FF1E1E"]}}}},
{"data":{"name":"a_t2"},"mark":{"type":"line","strokeWidth":2.8},"encoding":{
"x":{"field":"t","type":"quantitative","scale":{"domain":[1,175],"nice":false,"zero":false},"axis":{"orient":"top","values":[1,7,13,19,25,31,37,43,49,55,61,67,73,79,85,91,97,103,109,115,121,127,133,139,145,151,157,163,169,175],"tickSize":-7,"labels":false,"title":"(a)","titleFont":"Liberation Sans","titleFontSize":25,"titleFontWeight":"normal","titleColor":"#111","titleX":106,"titleY":-27,"titleAngle":0,"titleAlign":"center","titleBaseline":"middle"}},
"y":{"field":"v","type":"quantitative","scale":{"domain":[0,1],"nice":false,"zero":false},"axis":{"orient":"right","values":[0,0.1,0.2,0.3,0.4,0.5,0.6,0.7,0.8,0.9,1],"tickSize":-6,"labels":false,"title":null}},
"color":{"datum":"Terra Ed2","type":"nominal","title":null,"scale":{"domain":["Aqua Ed2","Aqua Ed4","Terra Ed2","Terra Ed4"],"range":["#00E5E5","#1414D2","#FFA200","#FF1E1E"]}}}},
{"data":{"name":"a_t4"},"mark":{"type":"line","strokeWidth":2.8},"encoding":{
"x":{"field":"t","type":"quantitative","scale":{"domain":[1,175],"nice":false,"zero":false},"axis":{"orient":"top","values":[4,10,16,22,28,34,40,46,52,58,64,70,76,82,88,94,100,106,112,118,124,130,136,142,148,154,160,166,172],"tickSize":-4,"labels":false,"title":null}},
"y":{"field":"v","type":"quantitative","scale":{"domain":[0,1],"nice":false,"zero":false},"axis":{"orient":"right","values":[0.05,0.15,0.25,0.35,0.45,0.55,0.65,0.75,0.85,0.95],"tickSize":-4,"labels":false,"title":null}},
"color":{"datum":"Terra Ed4","type":"nominal","title":null,"scale":{"domain":["Aqua Ed2","Aqua Ed4","Terra Ed2","Terra Ed4"],"range":["#00E5E5","#1414D2","#FFA200","#FF1E1E"]}}}}
],
"resolve":{"axis":{"x":"independent","y":"independent"}}},
{"width":517,"height":315,
"title":{"text":"Time Series of CloudFraction","subtitle":"Land, Non Polar, Total Phase, Day"},
"layer":[
{"data":{"name":"b_a2"},"mark":{"type":"line","strokeWidth":2.8},"encoding":{
"x":{"field":"t","type":"quantitative","scale":{"domain":[1,175],"nice":false,"zero":false},"axis":{"orient":"bottom","values":[1,7,13,19,25,31,37,43,49,55,61,67,73,79,85,91,97,103,109,115,121,127,133,139,145,151,157,163,169,175],"tickSize":-7,"labels":false,"title":null}},
"y":{"field":"v","type":"quantitative","scale":{"domain":[0,1],"nice":false,"zero":false},"axis":{"orient":"left","values":[0,0.1,0.2,0.3,0.4,0.5,0.6,0.7,0.8,0.9,1],"tickSize":-6,"format":"~g","labelFont":"Liberation Serif","labelFontSize":12.5,"labelColor":"#333","labelPadding":11,"title":null}},
"color":{"datum":"Aqua Ed2","type":"nominal","title":null,"scale":{"domain":["Aqua Ed2","Aqua Ed4","Terra Ed2","Terra Ed4"],"range":["#00E5E5","#1414D2","#FFA200","#FF1E1E"]}}}},
{"data":{"name":"b_a4"},"mark":{"type":"line","strokeWidth":2.8},"encoding":{
"x":{"field":"t","type":"quantitative","scale":{"domain":[1,175],"nice":false,"zero":false},"axis":{"orient":"bottom","values":[4,10,16,22,28,34,40,46,52,58,64,70,76,82,88,94,100,106,112,118,124,130,136,142,148,154,160,166,172],"tickSize":-4,"labels":false,"title":null}},
"y":{"field":"v","type":"quantitative","scale":{"domain":[0,1],"nice":false,"zero":false},"axis":{"orient":"left","values":[0.05,0.15,0.25,0.35,0.45,0.55,0.65,0.75,0.85,0.95],"tickSize":-4,"labels":false,"title":null}},
"color":{"datum":"Aqua Ed4","type":"nominal","title":null,"scale":{"domain":["Aqua Ed2","Aqua Ed4","Terra Ed2","Terra Ed4"],"range":["#00E5E5","#1414D2","#FFA200","#FF1E1E"]}}}},
{"data":{"name":"b_t2"},"mark":{"type":"line","strokeWidth":2.8},"encoding":{
"x":{"field":"t","type":"quantitative","scale":{"domain":[1,175],"nice":false,"zero":false},"axis":{"orient":"top","values":[1,7,13,19,25,31,37,43,49,55,61,67,73,79,85,91,97,103,109,115,121,127,133,139,145,151,157,163,169,175],"tickSize":-7,"labels":false,"title":"(b)","titleFont":"Liberation Sans","titleFontSize":25,"titleFontWeight":"normal","titleColor":"#111","titleX":106,"titleY":-27,"titleAngle":0,"titleAlign":"center","titleBaseline":"middle"}},
"y":{"field":"v","type":"quantitative","scale":{"domain":[0,1],"nice":false,"zero":false},"axis":{"orient":"right","values":[0,0.1,0.2,0.3,0.4,0.5,0.6,0.7,0.8,0.9,1],"tickSize":-6,"labels":false,"title":null}},
"color":{"datum":"Terra Ed2","type":"nominal","title":null,"scale":{"domain":["Aqua Ed2","Aqua Ed4","Terra Ed2","Terra Ed4"],"range":["#00E5E5","#1414D2","#FFA200","#FF1E1E"]}}}},
{"data":{"name":"b_t4"},"mark":{"type":"line","strokeWidth":2.8},"encoding":{
"x":{"field":"t","type":"quantitative","scale":{"domain":[1,175],"nice":false,"zero":false},"axis":{"orient":"top","values":[4,10,16,22,28,34,40,46,52,58,64,70,76,82,88,94,100,106,112,118,124,130,136,142,148,154,160,166,172],"tickSize":-4,"labels":false,"title":null}},
"y":{"field":"v","type":"quantitative","scale":{"domain":[0,1],"nice":false,"zero":false},"axis":{"orient":"right","values":[0.05,0.15,0.25,0.35,0.45,0.55,0.65,0.75,0.85,0.95],"tickSize":-4,"labels":false,"title":null}},
"color":{"datum":"Terra Ed4","type":"nominal","title":null,"scale":{"domain":["Aqua Ed2","Aqua Ed4","Terra Ed2","Terra Ed4"],"range":["#00E5E5","#1414D2","#FFA200","#FF1E1E"]}}}}
],
"resolve":{"axis":{"x":"independent","y":"independent"}}},
{"width":517,"height":315,
"title":{"text":"Time Series of CloudFraction","subtitle":"Ocean, Polar, Total Phase, Day"},
"layer":[
{"data":{"name":"c_a2"},"mark":{"type":"line","strokeWidth":2.8},"encoding":{
"x":{"field":"t","type":"quantitative","scale":{"domain":[1,175],"nice":false,"zero":false},"axis":{"orient":"bottom","values":[1,7,13,19,25,31,37,43,49,55,61,67,73,79,85,91,97,103,109,115,121,127,133,139,145,151,157,163,169,175],"tickSize":-7,"labelExpr":"datum.value % 12 == 7 ? ['8', (datum.value < 120 ? '0' : '') + floor(datum.value / 12)] : ''","labelFont":"Liberation Sans","labelFontSize":12,"labelColor":"#333","labelPadding":11,"labelLineHeight":15,"title":"Month of Year After 2000","titleFont":"Liberation Sans","titleFontSize":19,"titleFontWeight":"normal","titleColor":"#333","titlePadding":7}},
"y":{"field":"v","type":"quantitative","scale":{"domain":[0,1],"nice":false,"zero":false},"axis":{"orient":"left","values":[0,0.1,0.2,0.3,0.4,0.5,0.6,0.7,0.8,0.9,1],"tickSize":-6,"format":"~g","labelFont":"Liberation Serif","labelFontSize":12.5,"labelColor":"#333","labelPadding":11,"title":"Cloud Fraction","titleFont":"Liberation Sans","titleFontSize":19,"titleFontWeight":"normal","titleColor":"#222","titlePadding":12}},
"color":{"datum":"Aqua Ed2","type":"nominal","title":null,"scale":{"domain":["Aqua Ed2","Aqua Ed4","Terra Ed2","Terra Ed4"],"range":["#00E5E5","#1414D2","#FFA200","#FF1E1E"]}}}},
{"data":{"name":"c_a4"},"mark":{"type":"line","strokeWidth":2.8},"encoding":{
"x":{"field":"t","type":"quantitative","scale":{"domain":[1,175],"nice":false,"zero":false},"axis":{"orient":"bottom","values":[4,10,16,22,28,34,40,46,52,58,64,70,76,82,88,94,100,106,112,118,124,130,136,142,148,154,160,166,172],"tickSize":-4,"labels":false,"title":null}},
"y":{"field":"v","type":"quantitative","scale":{"domain":[0,1],"nice":false,"zero":false},"axis":{"orient":"left","values":[0.05,0.15,0.25,0.35,0.45,0.55,0.65,0.75,0.85,0.95],"tickSize":-4,"labels":false,"title":null}},
"color":{"datum":"Aqua Ed4","type":"nominal","title":null,"scale":{"domain":["Aqua Ed2","Aqua Ed4","Terra Ed2","Terra Ed4"],"range":["#00E5E5","#1414D2","#FFA200","#FF1E1E"]}}}},
{"data":{"name":"c_t2"},"mark":{"type":"line","strokeWidth":2.8},"encoding":{
"x":{"field":"t","type":"quantitative","scale":{"domain":[1,175],"nice":false,"zero":false},"axis":{"orient":"top","values":[1,7,13,19,25,31,37,43,49,55,61,67,73,79,85,91,97,103,109,115,121,127,133,139,145,151,157,163,169,175],"tickSize":-7,"labels":false,"title":"(c)","titleFont":"Liberation Sans","titleFontSize":25,"titleFontWeight":"normal","titleColor":"#111","titleX":106,"titleY":-27,"titleAngle":0,"titleAlign":"center","titleBaseline":"middle"}},
"y":{"field":"v","type":"quantitative","scale":{"domain":[0,1],"nice":false,"zero":false},"axis":{"orient":"right","values":[0,0.1,0.2,0.3,0.4,0.5,0.6,0.7,0.8,0.9,1],"tickSize":-6,"labels":false,"title":null}},
"color":{"datum":"Terra Ed2","type":"nominal","title":null,"scale":{"domain":["Aqua Ed2","Aqua Ed4","Terra Ed2","Terra Ed4"],"range":["#00E5E5","#1414D2","#FFA200","#FF1E1E"]}}}},
{"data":{"name":"c_t4"},"mark":{"type":"line","strokeWidth":2.8},"encoding":{
"x":{"field":"t","type":"quantitative","scale":{"domain":[1,175],"nice":false,"zero":false},"axis":{"orient":"top","values":[4,10,16,22,28,34,40,46,52,58,64,70,76,82,88,94,100,106,112,118,124,130,136,142,148,154,160,166,172],"tickSize":-4,"labels":false,"title":null}},
"y":{"field":"v","type":"quantitative","scale":{"domain":[0,1],"nice":false,"zero":false},"axis":{"orient":"right","values":[0.05,0.15,0.25,0.35,0.45,0.55,0.65,0.75,0.85,0.95],"tickSize":-4,"labels":false,"title":null}},
"color":{"datum":"Terra Ed4","type":"nominal","title":null,"scale":{"domain":["Aqua Ed2","Aqua Ed4","Terra Ed2","Terra Ed4"],"range":["#00E5E5","#1414D2","#FFA200","#FF1E1E"]}}}}
],
"resolve":{"axis":{"x":"independent","y":"independent"}}},
{"width":517,"height":315,
"title":{"text":"Time Series of CloudFraction","subtitle":"Land, Polar, Total Phase, Day"},
"layer":[
{"data":{"name":"d_a2"},"mark":{"type":"line","strokeWidth":2.8},"encoding":{
"x":{"field":"t","type":"quantitative","scale":{"domain":[1,175],"nice":false,"zero":false},"axis":{"orient":"bottom","values":[1,7,13,19,25,31,37,43,49,55,61,67,73,79,85,91,97,103,109,115,121,127,133,139,145,151,157,163,169,175],"tickSize":-7,"labelExpr":"datum.value % 12 == 7 ? ['8', (datum.value < 120 ? '0' : '') + floor(datum.value / 12)] : ''","labelFont":"Liberation Sans","labelFontSize":12,"labelColor":"#333","labelPadding":11,"labelLineHeight":15,"title":"Month of Year After 2000","titleFont":"Liberation Sans","titleFontSize":19,"titleFontWeight":"normal","titleColor":"#333","titlePadding":7}},
"y":{"field":"v","type":"quantitative","scale":{"domain":[0,1],"nice":false,"zero":false},"axis":{"orient":"left","values":[0,0.1,0.2,0.3,0.4,0.5,0.6,0.7,0.8,0.9,1],"tickSize":-6,"format":"~g","labelFont":"Liberation Serif","labelFontSize":12.5,"labelColor":"#333","labelPadding":11,"title":null}},
"color":{"datum":"Aqua Ed2","type":"nominal","title":null,"scale":{"domain":["Aqua Ed2","Aqua Ed4","Terra Ed2","Terra Ed4"],"range":["#00E5E5","#1414D2","#FFA200","#FF1E1E"]}}}},
{"data":{"name":"d_a4"},"mark":{"type":"line","strokeWidth":2.8},"encoding":{
"x":{"field":"t","type":"quantitative","scale":{"domain":[1,175],"nice":false,"zero":false},"axis":{"orient":"bottom","values":[4,10,16,22,28,34,40,46,52,58,64,70,76,82,88,94,100,106,112,118,124,130,136,142,148,154,160,166,172],"tickSize":-4,"labels":false,"title":null}},
"y":{"field":"v","type":"quantitative","scale":{"domain":[0,1],"nice":false,"zero":false},"axis":{"orient":"left","values":[0.05,0.15,0.25,0.35,0.45,0.55,0.65,0.75,0.85,0.95],"tickSize":-4,"labels":false,"title":null}},
"color":{"datum":"Aqua Ed4","type":"nominal","title":null,"scale":{"domain":["Aqua Ed2","Aqua Ed4","Terra Ed2","Terra Ed4"],"range":["#00E5E5","#1414D2","#FFA200","#FF1E1E"]}}}},
{"data":{"name":"d_t2"},"mark":{"type":"line","strokeWidth":2.8},"encoding":{
"x":{"field":"t","type":"quantitative","scale":{"domain":[1,175],"nice":false,"zero":false},"axis":{"orient":"top","values":[1,7,13,19,25,31,37,43,49,55,61,67,73,79,85,91,97,103,109,115,121,127,133,139,145,151,157,163,169,175],"tickSize":-7,"labels":false,"title":"(d)","titleFont":"Liberation Sans","titleFontSize":25,"titleFontWeight":"normal","titleColor":"#111","titleX":106,"titleY":-27,"titleAngle":0,"titleAlign":"center","titleBaseline":"middle"}},
"y":{"field":"v","type":"quantitative","scale":{"domain":[0,1],"nice":false,"zero":false},"axis":{"orient":"right","values":[0,0.1,0.2,0.3,0.4,0.5,0.6,0.7,0.8,0.9,1],"tickSize":-6,"labels":false,"title":null}},
"color":{"datum":"Terra Ed2","type":"nominal","title":null,"scale":{"domain":["Aqua Ed2","Aqua Ed4","Terra Ed2","Terra Ed4"],"range":["#00E5E5","#1414D2","#FFA200","#FF1E1E"]}}}},
{"data":{"name":"d_t4"},"mark":{"type":"line","strokeWidth":2.8},"encoding":{
"x":{"field":"t","type":"quantitative","scale":{"domain":[1,175],"nice":false,"zero":false},"axis":{"orient":"top","values":[4,10,16,22,28,34,40,46,52,58,64,70,76,82,88,94,100,106,112,118,124,130,136,142,148,154,160,166,172],"tickSize":-4,"labels":false,"title":null}},
"y":{"field":"v","type":"quantitative","scale":{"domain":[0,1],"nice":false,"zero":false},"axis":{"orient":"right","values":[0.05,0.15,0.25,0.35,0.45,0.55,0.65,0.75,0.85,0.95],"tickSize":-4,"labels":false,"title":null}},
"color":{"datum":"Terra Ed4","type":"nominal","title":null,"scale":{"domain":["Aqua Ed2","Aqua Ed4","Terra Ed2","Terra Ed4"],"range":["#00E5E5","#1414D2","#FFA200","#FF1E1E"]}}}}
],
"resolve":{"axis":{"x":"independent","y":"independent"}}}
]
}
